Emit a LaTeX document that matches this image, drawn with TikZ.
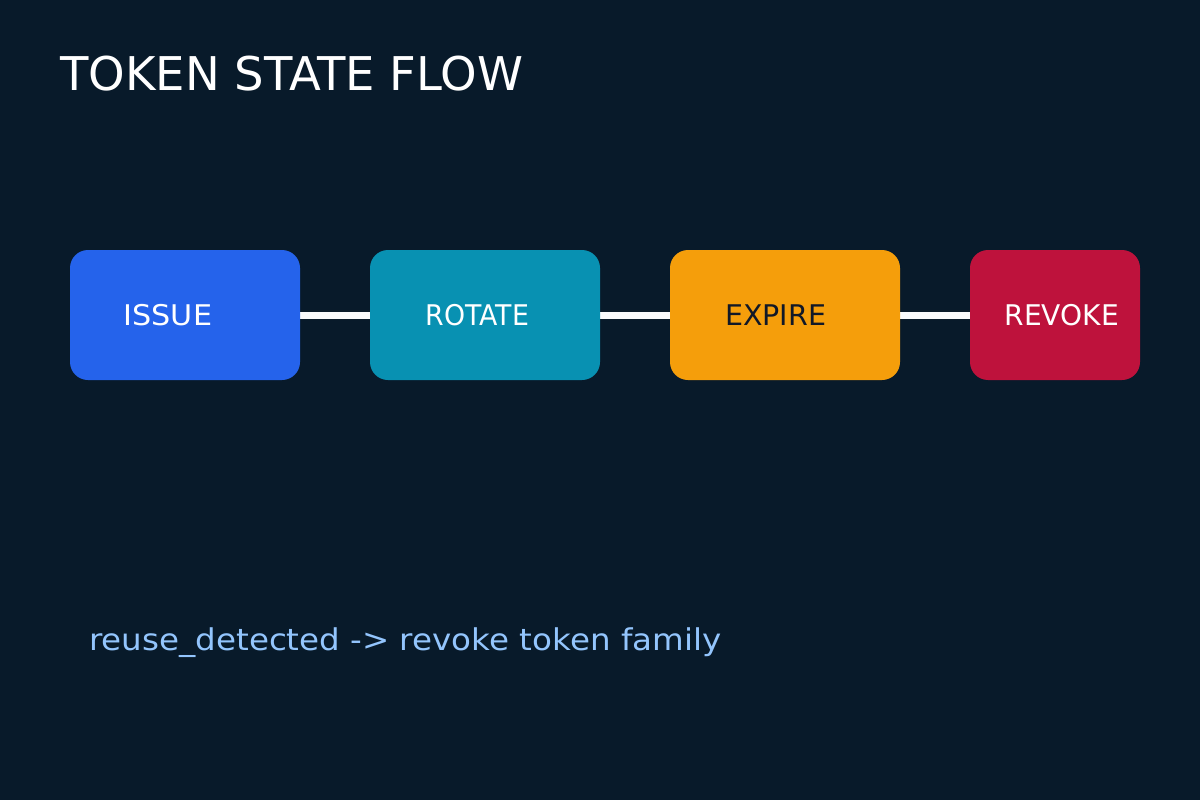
\documentclass[tikz,border=0pt]{standalone}
\usepackage{graphicx}
\usepackage{fontspec}
\setmainfont{DejaVu Sans}
\definecolor{bg}{HTML}{081A2A}
\definecolor{cissue}{HTML}{2563EB}
\definecolor{crotate}{HTML}{0891B2}
\definecolor{cexpire}{HTML}{F59E0B}
\definecolor{crevoke}{HTML}{BE123C}
\definecolor{note}{HTML}{93C5FD}
\definecolor{wire}{HTML}{F8FAFC}
\definecolor{darktext}{HTML}{111827}
\begin{document}
\begin{tikzpicture}[x=1pt,y=-1pt,
  statebox/.style={rounded corners=18pt, inner sep=0pt, outer sep=0pt},
  lbl/.style={anchor=base west, inner sep=0pt, font=\fontsize{28.5}{28.5}\selectfont},
  wireline/.style={wire, line width=7pt}]
\fill[bg] (0,0) rectangle (1200,800);
\useasboundingbox (0,0) rectangle (1200,800);
\node[anchor=base west, inner sep=0pt, text=white, font=\fontsize{46.5}{46.5}\selectfont] (title) at (60,91) {TOKEN STATE FLOW};
% connectors
\coordinate (issueR) at (300,315);
\coordinate (rotateL) at (370,315);
\coordinate (rotateR) at (600,315);
\coordinate (expireL) at (670,315);
\coordinate (expireR) at (900,315);
\coordinate (revokeL) at (970,315);
\draw[wireline] (issueR) -- (rotateL);
\draw[wireline] (rotateR) -- (expireL);
\draw[wireline] (expireR) -- (revokeL);
% boxes
\fill[cissue, statebox] (70,250) rectangle (300,380);
\fill[crotate, statebox] (370,250) rectangle (600,380);
\fill[cexpire, statebox] (670,250) rectangle (900,380);
\fill[crevoke, statebox] (970,250) rectangle (1140,380);
\node[lbl, text=white] (issue) at (123.5,325) {\scalebox{1.06}[1]{ISSUE}};
\node[lbl, text=white] (rotate) at (425.5,325) {\scalebox{0.94}[1]{ROTATE}};
\node[lbl, text=darktext] (expire) at (725,325) {\scalebox{1.0}[1]{EXPIRE}};
\node[lbl, text=white] (revoke) at (1004.5,325) {\scalebox{0.985}[1]{REVOKE}};
\node[anchor=base west, inner sep=0pt, text=note, font=\fontsize{30}{30}\selectfont] (notetext) at (89,650) {\scalebox{1.084}[1]{reuse\_detected -> revoke token family}};
\end{tikzpicture}
\end{document}
